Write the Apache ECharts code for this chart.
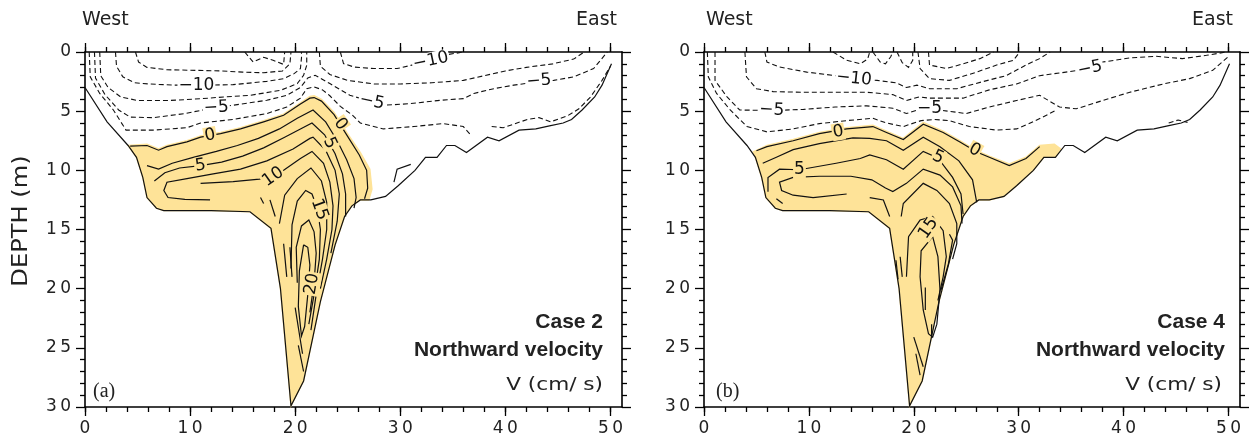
<!DOCTYPE html>
<html><head><meta charset="utf-8">
<script src="https://cdn.jsdelivr.net/npm/echarts@6/dist/echarts.min.js"></script>
<style>html,body{margin:0;padding:0;background:#fff}#c{width:1257px;height:440px}</style>
</head><body><div id="c"></div>
<script>
// ---------------- data (distance km, depth m) ----------------
const xMajorTicks = [0, 10, 20, 30, 40, 50];
const xMinorTicks = [0, 2, 4, 6, 8, 10, 12, 14, 16, 18, 20, 22, 24, 26, 28, 30, 32, 34, 36, 38, 40, 42, 44, 46, 48, 50];
const depthTicks = [0, 5, 10, 15, 20, 25, 30];
const panelCases = ['Case 2', 'Case 4'];
const panelTags = ['(a)', '(b)'];

// bottom topography (same section for both cases)
const bottomLine = [[0,3.0],[2.1,5.9],[4.1,7.9],[4.9,8.9],[5.5,10.6],[5.9,12.3],[6.8,13.2],[7.5,13.4],[12,13.4],[15.7,13.5],[17.7,14.9],[18.6,20.0],[19.6,29.9],[20.8,27.8],[22.4,21.1],[23.8,16.3],[24.7,13.9],[25.4,13.0],[26.2,12.5],[27.2,12.5],[28.6,12.2],[29.8,11.3],[31.4,10.0],[32.4,8.9],[33.5,8.9],[34.4,7.9],[35.2,7.9],[36.3,8.5],[38.3,7.2],[39.4,7.5],[41.3,6.6],[42.9,6.5],[44.2,6.25],[45.5,6.0],[46.3,5.7],[47.3,4.9],[48.5,3.8],[49.2,2.8],[50.1,1.0]];

// ---- Case 2 ----
const fillA = [[4.1,7.9],[5.9,7.8],[7.0,8.2],[7.8,7.9],[9.7,7.5],[11.0,7.1],[12.9,6.8],[14.8,6.4],[17.0,5.8],[18.9,5.25],[20.5,4.3],[21.4,3.75],[21.8,3.7],[22.5,4.0],[23.7,5.1],[24.9,6.8],[26.2,8.5],[27.1,9.9],[27.3,11.6],[27.0,12.5],[26.2,12.5],[25.4,13.0],[24.7,13.9],[23.8,16.3],[22.4,21.1],[20.8,27.8],[19.6,29.9],[18.6,20.0],[17.7,14.9],[15.7,13.5],[12,13.4],[7.5,13.4],[6.8,13.2],[5.9,12.3],[5.5,10.6],[4.9,8.9]];
const solidA = [
  [[4.3,7.95],[5.9,7.9],[7.0,8.3],[7.8,8.0],[9.7,7.6],[11.0,7.2],[12.9,6.9],[14.8,6.5],[17.0,5.9],[18.9,5.35],[20.5,4.4],[21.4,3.9],[21.8,3.85],[22.5,4.15],[23.7,5.3],[24.9,7.0],[26.1,8.7],[26.8,10.0],[26.9,11.5],[26.6,12.4]],
  [[5.9,9.6],[7.0,9.9],[8.3,9.4],[10.3,8.9],[12.5,8.4],[14.5,7.9],[16.5,7.3],[18.5,6.5],[20.2,5.6],[21.7,4.9],[22.9,5.9],[24.0,7.5],[24.9,9.1],[25.6,10.7],[25.8,12.3],[25.6,13.2]],
  [[6.6,10.9],[7.6,10.2],[9.0,9.8],[11.0,9.6],[13.0,9.3],[15.0,8.8],[17.0,8.1],[19.0,7.2],[20.5,6.5],[21.6,6.0],[22.8,7.0],[23.8,8.6],[24.5,10.3],[24.8,12.0],[24.8,13.9]],
  [[11.9,12.5],[9.5,12.45],[7.9,12.3],[7.5,11.7],[7.8,11.0],[9.7,10.7],[12.2,10.3],[14.8,9.9],[17.3,9.2],[19.8,8.2],[21.4,7.3],[21.7,7.2],[22.9,8.3],[23.8,10.0],[24.2,12.0],[24.0,14.3],[23.4,17.0]],
  [[11.0,11.1],[14.1,10.95],[16.6,10.75],[17.9,10.55],[18.9,10.0],[20.5,9.0],[21.6,8.4],[22.7,9.4],[23.3,11.0],[23.6,13.0],[23.5,15.0],[23.0,17.5],[22.4,20.0]],
  [[18.5,14.5],[19.0,12.1],[20.2,10.7],[21.5,9.8],[22.5,10.9],[23.0,12.7],[23.0,15.0],[22.6,17.5],[22.0,20.5],[21.5,23.5]],
  [[19.6,18.3],[19.7,14.6],[20.2,12.6],[21.0,11.7],[21.6,12.0],[22.1,13.2],[22.4,15.0],[22.3,17.5],[21.8,20.5],[21.3,23.0]],
  [[20.2,19.5],[20.1,16.5],[20.6,14.7],[21.3,14.2],[21.8,15.2],[22.0,17.0],[21.8,19.5],[21.4,22.0]],
  [[20.8,16.3],[20.4,18.5],[20.3,21.5],[20.6,24.0],[20.9,23.2],[21.2,20.5],[21.4,18.0],[21.2,16.5],[20.8,16.3]],
  [[16.7,12.3],[17.0,12.8]],
  [[17.6,12.5],[18.1,13.9]],
  [[18.9,16.2],[19.2,19.0]],
  [[19.5,16.5],[19.7,19.0]],
  [[20.0,21.6],[20.7,25.5]],
  [[20.3,24.8],[20.8,27.0]],
  [[29.4,11.0],[29.7,9.9],[31.0,9.5]]
];
const dashedA = [
  [[15.2,0],[16.0,0.85],[17.0,0.45],[17.9,0.7],[18.9,1.05],[19.0,0]],
  [[4.8,0],[5.1,0.85],[5.9,1.3],[7.8,1.5],[10.5,1.55],[13,1.6],[15,1.7],[17,1.75],[18.8,1.6],[19.5,1.0],[19.6,0]],
  [[2.9,0],[3.0,1.2],[3.6,2.1],[4.7,2.6],[6.0,2.7],[8.5,2.8],[11.6,2.8],[14.1,2.76],[17.3,2.48],[18.9,2.25],[19.9,1.83],[20.5,1.4],[20.6,0.5],[20.6,0]],
  [[1.4,0],[1.5,2.0],[2.2,3.0],[3.4,3.8],[5.0,4.1],[8,4.1],[11,3.95],[13.2,3.8],[15.7,3.66],[18.6,3.24],[20.2,2.67],[20.8,1.97],[21.1,1.12],[21.1,0]],
  [[0.9,0],[1.0,2.2],[1.9,3.6],[3.2,4.9],[4.3,5.5],[6.5,5.55],[9.5,5.2],[11.5,4.85],[12.9,4.65],[14.1,4.5],[17.3,4.08],[19.2,3.66],[20.5,3.0],[21.2,2.2],[21.9,1.97],[23.3,2.67],[25.2,3.66],[27.3,4.2],[28.4,4.5],[30.9,4.37],[33.8,4.08],[36.0,3.94],[37.0,3.5],[38.9,3.1],[40.8,2.8],[43.2,2.5],[44.6,2.4],[46.5,2.1],[48.4,1.4],[49.7,0]],
  [[0.4,0],[0.5,2.1],[1.4,3.5],[2.7,4.9],[3.9,6.6],[6.5,6.6],[9.7,6.4],[11.0,6.0],[14.1,5.7],[17.3,5.2],[19.2,4.65],[20.5,3.9],[21.1,3.1],[21.8,2.95],[22.6,3.2],[23.3,3.7],[24.3,4.6],[25.4,5.3],[26.2,6.0],[28.4,6.5],[31.3,6.3],[34.1,6.05],[36.0,6.3],[36.7,7.0]],
  [[38.7,6.3],[39.8,6.4],[42.1,5.7],[43.2,5.55],[44.3,5.9],[45.9,5.4],[47.0,4.8],[48.1,3.8],[49.2,2.4],[50.0,1.2]],
  [[24.3,0],[24.6,0.98],[25.6,1.27],[27.5,1.4],[29.7,1.4],[31.0,1.13],[32.9,0.7],[34.1,0.28],[36.0,0]],
  [[22.3,0],[22.4,1.2],[23.3,1.9],[25.0,2.4],[27.5,2.7],[30,2.7],[33,2.6],[36,2.4],[38,2.0],[40,1.6],[42,1.3],[44.5,1.0],[46.5,0.6],[47.5,0]]
];
const labelsA = [['−10',10.6,2.8],['−5',12.5,4.7],['0',11.9,7.05],['5',11.0,9.6],['10',17.9,10.55],['0',24.3,6.1],['5',23.3,7.7],['15',22.3,13.3],['20',21.6,19.6],['−10',32.9,0.75],['−5',27.3,4.2],['−5',43.2,2.45]];

// ---- Case 4 ----
const fillB = [[4.7,8.45],[6.0,7.9],[8.5,7.4],[11.0,6.8],[13.6,6.4],[16.1,6.2],[17.4,6.7],[19.0,7.3],[20.9,5.95],[22.8,6.7],[24.4,7.5],[26.0,8.35],[27.2,8.8],[29.1,9.45],[30.7,8.9],[32.0,7.9],[33.4,7.8],[34.0,8.2],[33.5,8.9],[32.4,8.9],[31.4,10.0],[29.8,11.3],[28.6,12.2],[27.2,12.5],[26.2,12.5],[25.4,13.0],[24.7,13.9],[23.8,16.3],[22.4,21.1],[20.8,27.8],[19.6,29.9],[18.6,20.0],[17.7,14.9],[15.7,13.5],[12,13.4],[7.5,13.4],[6.8,13.2],[5.9,12.3],[5.5,10.6],[4.9,8.9]];
const solidB = [
  [[5.0,8.35],[6.0,8.0],[8.5,7.5],[11.0,6.9],[13.6,6.5],[16.1,6.3],[17.4,6.8],[19.0,7.4],[20.9,6.1],[22.8,6.8],[24.4,7.6],[26.0,8.45],[27.2,8.9],[29.1,9.6],[30.7,9.0],[32.0,8.0]],
  [[5.6,9.4],[6.9,8.9],[8.5,8.25],[11.0,7.75],[14.2,7.25],[15.8,7.3],[17.4,7.5],[19.0,8.3],[20.9,7.2],[22.5,8.0],[24.3,9.2],[25.6,10.8],[26.0,12.7]],
  [[6.1,11.8],[6.1,10.6],[7.2,9.9],[9.1,9.95],[12.6,9.4],[14.9,9.0],[15.8,8.7],[17.4,9.1],[19.0,9.9],[20.9,8.4],[22.3,8.95],[23.7,10.6],[24.5,12.0],[24.7,13.7]],
  [[13.6,12.0],[10.4,12.3],[8.5,12.1],[7.4,11.7],[7.2,11.0],[8.5,10.6],[11.0,10.5],[14.0,10.5],[16.0,10.8],[17.3,11.5],[18.0,11.8],[19.3,11.1],[20.9,9.9],[22.5,10.4],[23.7,11.4],[24.5,13.0],[24.6,14.5]],
  [[18.8,13.9],[19.0,12.8],[20.9,11.1],[22.2,11.7],[23.4,12.8],[24.1,14.5],[24.1,16.2],[23.7,17.5]],
  [[19.3,19.0],[19.5,15.6],[20.6,14.2],[21.8,13.9],[22.8,15.1],[23.1,17.3],[22.8,19.0],[22.3,21.0]],
  [[21.8,15.6],[20.7,16.8],[20.6,19.0],[20.9,21.8],[21.4,23.8],[21.8,24.1],[22.2,23.0],[22.5,20.1],[22.3,17.3],[21.8,15.6]],
  [[15.8,12.3],[17.1,12.5],[17.7,13.9]],
  [[6.9,12.4],[7.5,12.8]],
  [[18.3,17.6],[18.5,19.2]],
  [[18.7,17.3],[18.9,19.0]],
  [[20.0,24.1],[20.9,26.6]],
  [[20.2,25.5],[20.6,27.3]],
  [[21.1,19.9],[21.1,21.8]],
  [[21.7,23.0],[21.7,24.0]],
  [[23.4,15.4],[23.7,15.9],[23.3,17.9],[22.6,20.1]]
];
const dashedB = [
  [[16.1,0],[16.8,0.85],[17.3,1.0],[17.8,0.4],[18.0,0]],
  [[18.4,0],[18.9,0.9],[19.5,1.3],[19.9,0.7],[19.9,0]],
  [[12.3,0],[13.6,0.7],[14.9,1.0],[15.6,0.6],[15.8,0]],
  [[21.4,0],[21.5,1.1],[23.1,1.4],[24.7,1.0],[26.3,0.56],[27.6,0]],
  [[20.4,0],[20.6,1.4],[21.5,2.25],[23.4,2.4],[26.0,1.7],[27.9,1.1],[29.5,0.7],[30.1,0]],
  [[5.8,0],[6.0,0.85],[7.2,1.27],[9.8,1.7],[12.3,1.97],[14.3,2.25],[16.5,2.4],[18.3,2.6],[19.3,3.0],[20.3,2.8],[21.5,3.1],[24.1,3.1],[26.6,2.5],[28.8,2.0],[30.7,1.1],[32.0,0.56],[33.0,0]],
  [[3.9,0],[4.05,2.1],[5.0,3.1],[6.6,3.35],[9.5,3.4],[12.5,3.4],[15.5,3.4],[18.0,3.6],[19.3,4.1],[20.5,3.8],[21.5,3.9],[24.7,3.9],[27.2,3.2],[29.8,2.7],[32.0,2.0],[34.5,1.7],[36.8,1.4],[38.0,0.85],[40.6,0.5],[43.1,0.36],[45.6,0.56],[47.9,0.28],[49.8,0]],
  [[1.05,0],[1.05,2.4],[2.2,3.8],[3.4,4.9],[6.4,4.95],[9.5,4.85],[12.5,4.65],[15.5,4.55],[18.0,4.75],[19.3,5.2],[20.5,4.85],[21.5,4.8],[25.0,5.2],[27.2,4.65],[29.8,4.1],[32.0,3.66],[33.9,4.65],[35.5,4.8],[38.0,4.1],[40.6,3.4],[43.8,2.7],[46.3,2.25],[48.5,1.55],[50.1,0.3]],
  [[0.32,0],[0.41,2.1],[1.2,3.5],[2.5,4.9],[4.1,6.3],[6.0,6.75],[8.5,6.5],[11.0,6.05],[13.6,5.8],[16.1,5.6],[17.4,6.0],[19.0,6.3],[20.7,5.8],[22.0,5.7],[23.4,5.8],[25.3,6.3],[27.9,6.6],[29.8,6.5],[31.0,6.05],[32.3,5.5],[33.6,4.9]],
  [[44.3,6.0],[45.2,5.75],[46.1,5.95]]
];
const labelsB = [['−10',14.3,2.25],['−5',6.45,4.9],['−5',21.5,4.8],['−5',36.8,1.4],['0',12.8,6.75],['0',25.8,8.3],['5',9.1,9.95],['5',22.3,8.9],['15',21.4,14.9]];

// ---------------- styling ----------------
const labelAnglesA = [0, 3, 10, 8, 35, -55, -65, -70, 80, 12, -12, 5];
const labelAnglesB = [-6, -3, 0, 12, 10, -30, 0, -25, 55];
const FILL = '#FEE398';
const INK = '#111';
const XMAX = 51.1;
const grids = [{left: 85, top: 52, width: 537, height: 355}, {left: 704, top: 52, width: 536, height: 355}];
const spaced = v => String(v).split('').join('\u2009');
const AX = {color: '#000', width: 1.6};
const TK = {color: '#000', width: 1.3};

const xAxes = [], yAxes = [], series = [];
grids.forEach((g, gi) => {
  const base = {gridIndex: gi, type: 'value', min: 0, max: XMAX, splitLine: {show: false}};
  xAxes.push(Object.assign({}, base, {position: 'bottom',
    axisLine: {show: true, onZero: false, lineStyle: AX},
    axisTick: {show: true, length: 9, customValues: xMajorTicks, lineStyle: TK},
    axisLabel: {show: true, customValues: xMajorTicks, margin: 13, color: '#222', fontSize: 17, fontFamily: 'DejaVu Sans', formatter: spaced}}));
  xAxes.push(Object.assign({}, base, {position: 'top',
    axisLine: {show: true, onZero: false, lineStyle: AX},
    axisTick: {show: true, length: 9, customValues: xMajorTicks, lineStyle: TK},
    axisLabel: {show: false}}));
  xAxes.push(Object.assign({}, base, {position: 'bottom',
    axisLine: {show: false, onZero: false},
    axisTick: {show: true, length: 5, customValues: xMinorTicks, lineStyle: TK},
    axisLabel: {show: false}}));
  xAxes.push(Object.assign({}, base, {position: 'top',
    axisLine: {show: false, onZero: false},
    axisTick: {show: true, length: 5, customValues: xMinorTicks, lineStyle: TK},
    axisLabel: {show: false}}));
  const ybase = {gridIndex: gi, type: 'value', min: 0, max: 30, interval: 5, inverse: true, splitLine: {show: false},
    minorTick: {show: true, splitNumber: 5, length: 5, lineStyle: TK}};
  yAxes.push(Object.assign({}, ybase, {position: 'left',
    axisLine: {show: true, onZero: false, lineStyle: AX},
    axisTick: {show: true, length: 9, lineStyle: TK},
    axisLabel: {show: true, margin: 14, color: '#222', fontSize: 17, fontFamily: 'DejaVu Sans', formatter: spaced}}));
  yAxes.push(Object.assign({}, ybase, {position: 'right',
    axisLine: {show: true, onZero: false, lineStyle: AX},
    axisTick: {show: true, length: 9, lineStyle: TK},
    axisLabel: {show: false}}));

  const xi = gi * 4, yi = gi * 2;
  const fill = gi ? fillB : fillA, solid = gi ? solidB : solidA, dashed = gi ? dashedB : dashedA;
  const labels = gi ? labelsB : labelsA, angles = gi ? labelAnglesB : labelAnglesA;
  const common = {type: 'custom', coordinateSystem: 'cartesian2d', xAxisIndex: xi, yAxisIndex: yi, silent: true, animation: false, clip: false};
  series.push(Object.assign({}, common, {z: 1, data: [fill[0]],
    renderItem: (p, api) => ({type: 'polygon', shape: {points: fill.map(q => api.coord(q))}, style: {fill: FILL, stroke: FILL, lineWidth: 1.5}})}));
  const lineSeries = (lines, style, z) => Object.assign({}, common, {z, data: lines.map(l => l[0]),
    renderItem: (p, api) => ({type: 'polyline', shape: {points: lines[p.dataIndex].map(q => api.coord(q))}, style: Object.assign({fill: null, stroke: INK}, style)})});
  series.push(lineSeries(dashed, {lineWidth: 1.1, lineDash: [5, 3]}, 2));
  series.push(lineSeries(solid, {lineWidth: 1.2}, 3));
  series.push(lineSeries([bottomLine], {lineWidth: 1.2}, 3));
  series.push(Object.assign({}, common, {z: 5, data: labels.map(l => [l[1], l[2]]),
    renderItem: (p, api) => {
      const L = labels[p.dataIndex];
      const pt = api.coord([L[1], L[2]]);
      const neg = L[0].charAt(0) === '−';
      const bg = neg ? '#fff' : FILL;
      return {type: 'text', x: pt[0], y: pt[1], rotation: angles[p.dataIndex] * Math.PI / 180,
        style: {text: L[0], font: '17px "DejaVu Sans"', fill: INK, align: 'center', verticalAlign: 'middle', backgroundColor: bg, padding: [0, 1]}};
    }}));
});

const graphic = [];
const txt = (x, y, text, font, align, extra) => graphic.push(Object.assign({type: 'text', x, y, silent: true,
  style: {text, font, fill: '#222', align, textAlign: align, verticalAlign: 'middle', textVerticalAlign: 'middle'}}, extra || {}));
[[82, 617], [706, 1233]].forEach(([l, r], gi) => {
  txt(l, 20.5, 'West', '19px "DejaVu Sans"', 'left');
  txt(r, 20.5, 'East', '19px "DejaVu Sans"', 'right');
  const rx = gi ? 1225 : 603;
  txt(rx, 322, panelCases[gi], 'bold 21px "Liberation Sans"', 'right');
  txt(rx, 350, 'Northward velocity', 'bold 21px "Liberation Sans"', 'right');
  txt(rx - (gi ? 3 : 0), 385, 'V (cm/ s)', '18px "DejaVu Sans"', 'right', {scaleX: 1.2});
  txt(gi ? 716 : 93, 392, panelTags[gi], '20px "Liberation Serif"', 'left');
});
txt(22, 221, 'DEPTH (m)', '21px "DejaVu Sans"', 'center', {rotation: Math.PI / 2, scaleX: 1.15});

const chart = echarts.init(document.getElementById('c'), null, {renderer: 'canvas'});
chart.setOption({animation: false, backgroundColor: '#fff', grid: grids, xAxis: xAxes, yAxis: yAxes, series, graphic});
</script></body></html>
